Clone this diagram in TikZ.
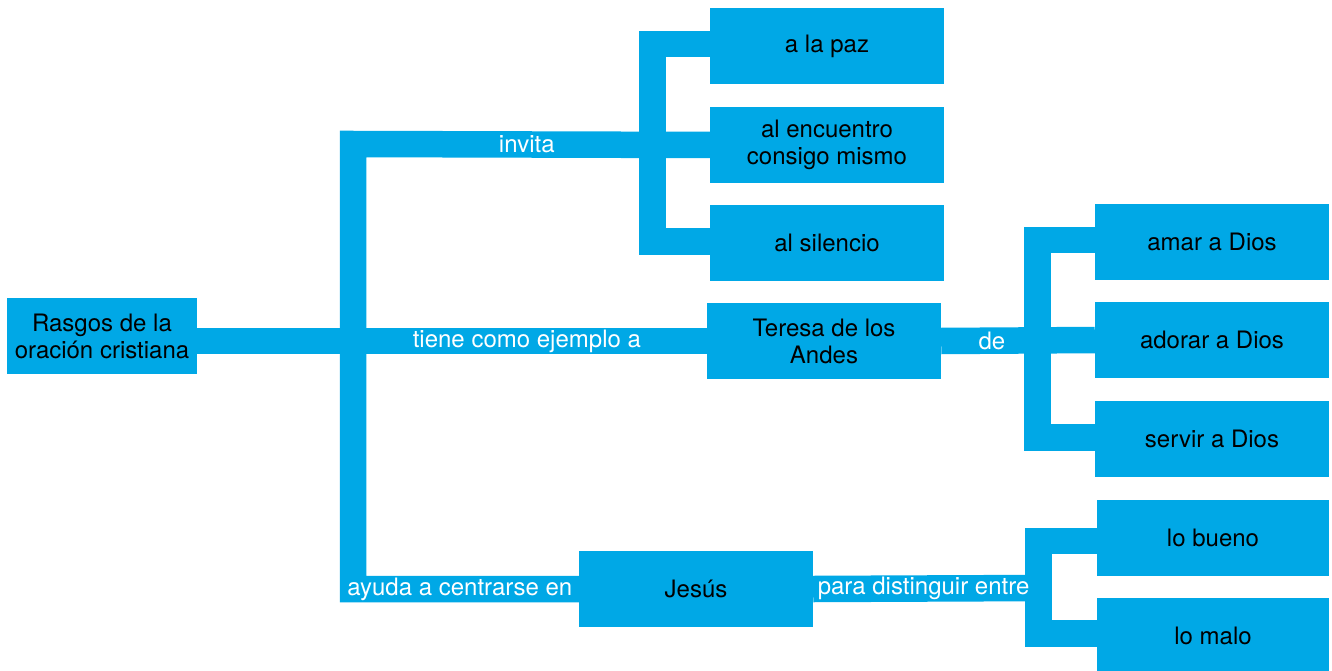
\documentclass[tikz,border=0pt]{standalone}
\usepackage{fontspec}
\setmainfont{TeX Gyre Heros}
\definecolor{cblue}{HTML}{00A8E6}
\begin{document}
\begin{tikzpicture}[x=1pt,y=-1pt,
  box/.style={fill=cblue, minimum width=234pt, minimum height=76pt, inner sep=0pt, align=center, font=\fontsize{24}{27}\selectfont, text=black},
  conn/.style={draw=cblue, line width=26.5pt, line join=miter},
  lbl/.style={text=white, font=\fontsize{24}{27}\selectfont, inner sep=0pt}]
\useasboundingbox (0,0) rectangle (1332,671);
% nodes
\node[box, minimum width=190pt] (root) at (102,336) {Rasgos de la\\oración cristiana};
\node[box] (paz) at (827,46) {a la paz};
\node[box] (encuentro) at (827,145) {al encuentro\\consigo mismo};
\node[box] (silencio) at (827,243) {al silencio};
\node[box] (teresa) at (824,341) {Teresa de los\\Andes};
\node[box] (amar) at (1212,242) {amar a Dios};
\node[box] (adorar) at (1212,340) {adorar a Dios};
\node[box] (servir) at (1212,439) {servir a Dios};
\node[box] (jesus) at (696,589) {Jesús};
\node[box, minimum width=232pt] (bueno) at (1213,538) {lo bueno};
\node[box, minimum width=232pt] (malo) at (1213,636) {lo malo};
% junction coordinates
\coordinate (t1) at (353,144);
\coordinate (t2) at (353,589);
\coordinate (b1) at (652.5,144);
\coordinate (b2) at (1037.5,340);
\coordinate (b3) at (1038.5,588);
% brackets first
\draw[conn] ([yshift=2pt]paz.west) -| (b1) |- ([yshift=1.5pt]silencio.west);
\draw[conn] ([yshift=2pt]amar.west) -| (b2) |- ([yshift=1.5pt]servir.west);
\draw[conn] ([yshift=-3pt]bueno.west) -| (b3) |- ([yshift=2.5pt]malo.west);
% labelled connectors
\draw[conn] (jesus.west) -- node[lbl, pos=0.527]{ayuda a centrarse en} (t2) -- (t1) -- node[lbl, pos=0.487]{invita} (encuentro.west);
\draw[conn] (root.east |- teresa.west) -- node[lbl, pos=0.647]{tiene como ejemplo a} (teresa.west);
\draw[conn] (teresa.east) -- node[lbl, pos=0.33]{de} (adorar.west);
\draw[conn] (jesus.east) -- node[lbl, pos=0.49]{para distinguir entre} (b3);
\end{tikzpicture}
\end{document}
